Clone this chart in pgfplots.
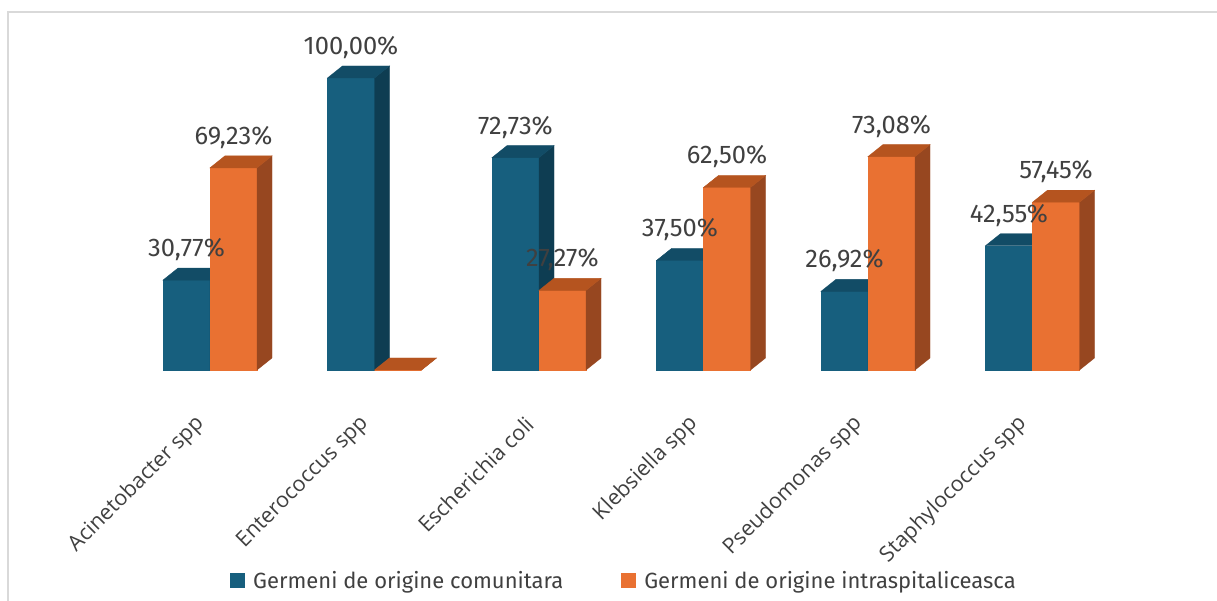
\documentclass[border=0pt]{standalone}
\usepackage{fontspec}
\setmainfont{Fira Sans}
\newfontfamily\catfont{Open Sans}
\usepackage{pgfplots}
\pgfplotsset{compat=1.18}

\definecolor{blueF}{HTML}{175F7E}
\definecolor{blueS}{HTML}{0E3D52}
\definecolor{blueT}{HTML}{124C66}
\definecolor{orgF}{HTML}{E97132}
\definecolor{orgS}{HTML}{974720}
\definecolor{orgT}{HTML}{B5541F}
\definecolor{txt}{HTML}{404040}
\definecolor{frame}{HTML}{D9D9D9}

\pgfdeclareplotmark{empty}{}

% one 3D bar per point: front, side and top face (offset = left edge of the front face)
\pgfplotsset{
  bar3d/.style n args={4}{
    scatter, only marks, mark=empty,
    visualization depends on={rawy \as \hval},
    scatter/@pre marker code/.code={
      \fill[#2] (#1,0pt) rectangle ({#1+47pt},{-\hval*2.92pt});
      \fill[#3] ({#1+47pt},0pt) -- ({#1+62pt},12pt) -- ({#1+62pt},{12pt-\hval*2.92pt}) -- ({#1+47pt},{-\hval*2.92pt}) -- cycle;
      \fill[#4] (#1,0pt) -- ({#1+47pt},0pt) -- ({#1+62pt},12pt) -- ({#1+15pt},12pt) -- cycle;
    },
    scatter/@post marker code/.code={},
    fill=#2,
  },
  barlabel/.style={
    forget plot, draw=none, mark=none, on layer=axis foreground,
    visualization depends on={rawy \as \rawy},
    nodes near coords={\ifdim\rawy pt>0pt \pgfmathprintnumber[fixed,fixed zerofill,precision=2,use comma]{\rawy}\%\fi},
    every node near coord/.append style={anchor=center, xshift=#1, yshift=30.5pt,
      font=\fontsize{25.5}{30}\selectfont, text=txt},
  },
}

\begin{document}
\begin{tikzpicture}
\begin{axis}[
  set layers,
  x=164.5pt, y=2.92pt,
  xmin=-1.2766, xmax=6.1216, ymin=-79.11, ymax=126.71,
  axis x line=middle, axis y line=none,
  axis line style={draw=none},
  major tick length=0pt, ytick=\empty,
  xtick={0,1,2,3,4,5},
  xticklabels={Acinetobacter spp, Enterococcus spp, Escherichia coli, Klebsiella spp, Pseudomonas spp, Staphylococcus spp},
  xticklabel style={font=\catfont\fontsize{21.5}{25}\selectfont, text=txt,
    xshift=-7pt, yshift=-48pt, rotate=45, anchor=east},
  clip=false,
  /pgf/number format/assume math mode=true,
  legend columns=2,
  legend style={draw=none, fill=none, inner sep=0pt,
    at={(axis description cs:0.189,0.0333)}, anchor=west,
    font=\fontsize{22}{25}\selectfont, text=txt,
    /tikz/every odd column/.append style={column sep=6pt},
    /tikz/every even column/.append style={column sep=56pt}},
  legend image code/.code={\fill[#1, draw=none] (0pt,-7.5pt) rectangle (15pt,7.5pt);},
]
  \addplot[bar3d={-47pt}{blueF}{blueS}{blueT}]
    coordinates {(0,30.77) (1,100) (2,72.73) (3,37.50) (4,26.92) (5,42.55)};
  \addlegendentry{Germeni de origine comunitara}
  \addplot[bar3d={0pt}{orgF}{orgS}{orgT}]
    coordinates {(0,69.23) (1,0) (2,27.27) (3,62.50) (4,73.08) (5,57.45)};
  \addlegendentry{Germeni de origine intraspitaliceasca}
  % value labels
  \addplot[barlabel=-23.5pt]
    coordinates {(0,30.77) (1,100) (2,72.73) (3,37.50) (4,26.92) (5,42.55)};
  \addplot[barlabel=23.5pt]
    coordinates {(0,69.23) (1,0) (2,27.27) (3,62.50) (4,73.08) (5,57.45)};
  % chart frame
  \draw[frame, line width=2pt] (rel axis cs:0.0066,0) -- (rel axis cs:0.0066,0.98) -- (rel axis cs:1,0.98);
\end{axis}
\pgfresetboundingbox
\path (current axis.south west) rectangle (current axis.north east);
\end{tikzpicture}
\end{document}
